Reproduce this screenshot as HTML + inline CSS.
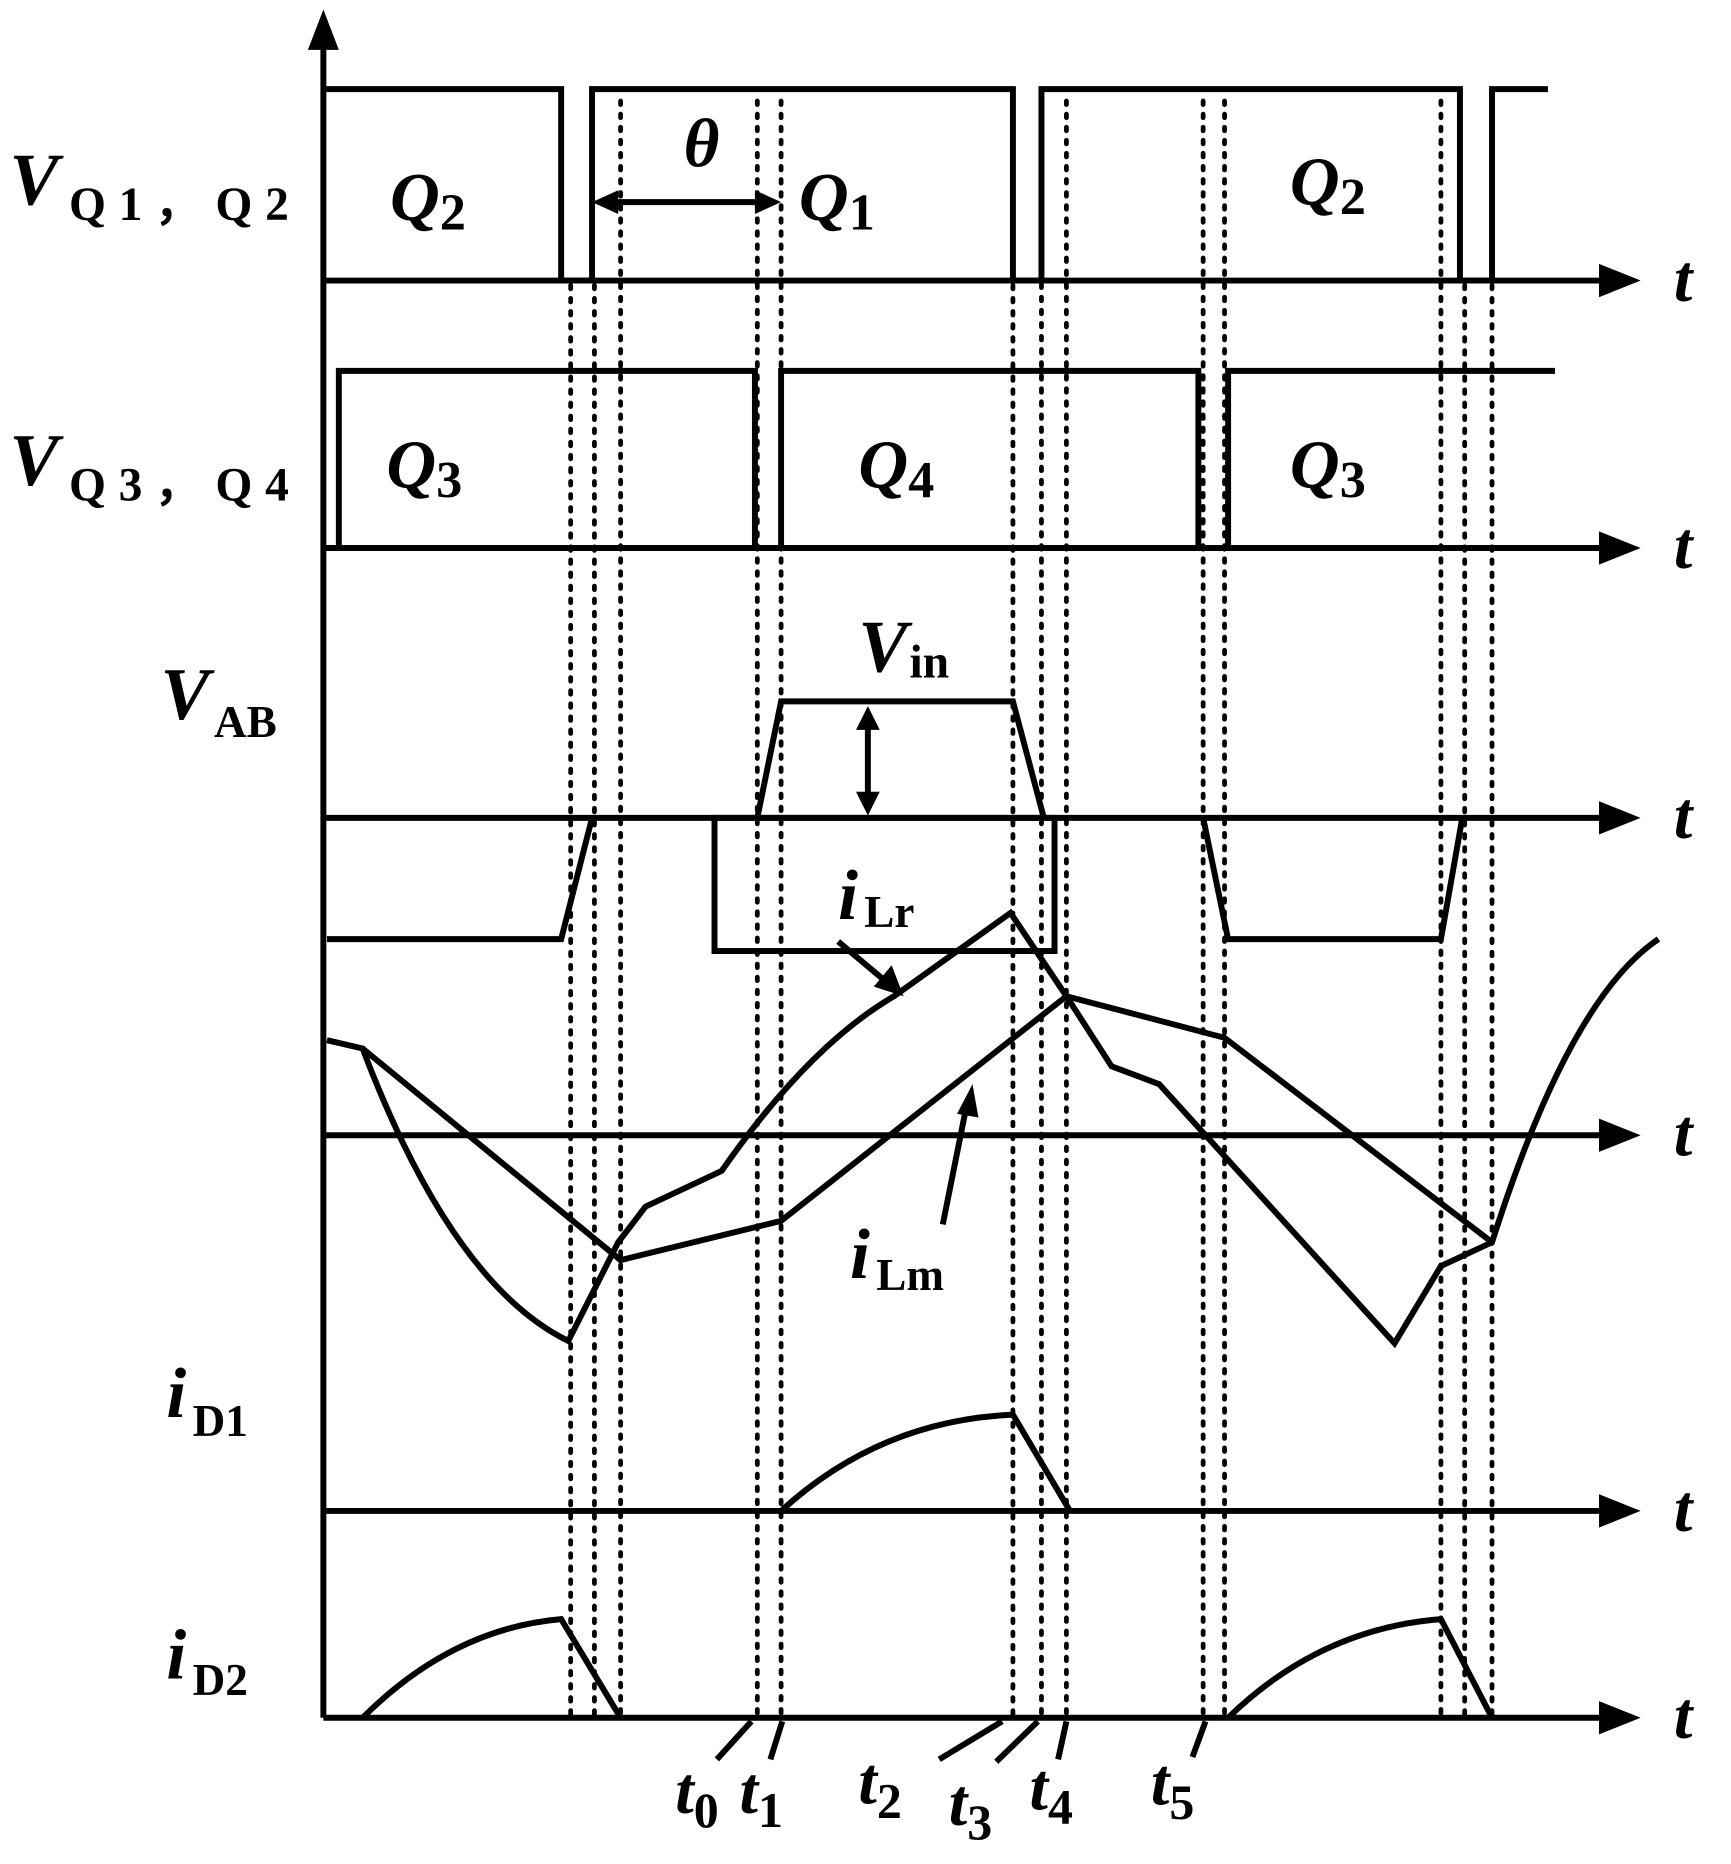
<!DOCTYPE html>
<html><head><meta charset="utf-8"><style>
html,body{margin:0;padding:0;background:#fff}
svg{display:block}
text{font-family:"Liberation Serif",serif;font-weight:bold;fill:#000}
</style></head><body>
<svg width="1731" height="1864" viewBox="0 0 1456 1568" preserveAspectRatio="none" xmlns="http://www.w3.org/2000/svg">
<g stroke="#000" stroke-width="5" fill="none" stroke-linejoin="miter">
<line x1="272" y1="1445" x2="272" y2="40"/>
<line x1="272" y1="236" x2="1350" y2="236"/>
<line x1="272" y1="461" x2="1350" y2="461"/>
<line x1="272" y1="688" x2="1350" y2="688"/>
<line x1="272" y1="955" x2="1350" y2="955"/>
<line x1="272" y1="1271" x2="1350" y2="1271"/>
<line x1="272" y1="1445" x2="1350" y2="1445"/>
<polyline points="272,75 472,75 472,236 478,236 498,236 498,75 852,75 852,236 876,236 876,75 1228,75 1228,236 1255,236 1255,75 1302,75"/>
<polyline points="285,461 285,312 635,312 635,461 657,461 657,312 1008,312 1008,461 1033,461 1033,312 1308,312"/>
<polyline points="275,790 472,790 498,688"/>
<polyline points="637,688 657,590 852,590 878,688"/>
<polyline points="1012,688 1033,790 1212,790 1230,688"/>
<rect x="601" y="688" width="286" height="112"/>
<line x1="730" y1="608" x2="730" y2="672"/>
<line x1="515" y1="170" x2="640" y2="170"/>
<path d="M275,875 L305,882 Q380,1080 478,1128 L520,1045 L543,1015 L607,985 Q680,880 752,838 L850,768 L897,838 L935,897 L975,912 L1173,1130 L1212,1065 L1255,1045 Q1320,840 1395,790"/>
<polyline points="305,882 522,1060 657,1027 897,838 1030,873 1255,1045"/>
<line x1="705" y1="792" x2="748" y2="828"/>
<line x1="793" y1="1030" x2="812" y2="935"/>
<path d="M657,1271 Q740,1195 852,1190 L900,1271"/>
<path d="M305,1445 Q380,1370 472,1362 L522,1445"/>
<path d="M1033,1445 Q1110,1370 1212,1362 L1255,1445"/>
<line x1="632" y1="1448" x2="603" y2="1480"/>
<line x1="658" y1="1448" x2="648" y2="1480"/>
<line x1="843" y1="1448" x2="790" y2="1480"/>
<line x1="873" y1="1448" x2="838" y2="1482"/>
<line x1="897" y1="1448" x2="890" y2="1480"/>
<line x1="1014" y1="1448" x2="1003" y2="1478"/>
</g>
<g stroke="#000" stroke-width="4" stroke-dasharray="3,8" stroke-linecap="round">
<line x1="480" y1="240" x2="480" y2="1445"/>
<line x1="500" y1="240" x2="500" y2="1445"/>
<line x1="522" y1="85" x2="522" y2="1445"/>
<line x1="637" y1="85" x2="637" y2="1445"/>
<line x1="657" y1="85" x2="657" y2="1445"/>
<line x1="852" y1="240" x2="852" y2="1445"/>
<line x1="876" y1="85" x2="876" y2="1445"/>
<line x1="897" y1="85" x2="897" y2="1445"/>
<line x1="1012" y1="85" x2="1012" y2="1445"/>
<line x1="1030" y1="85" x2="1030" y2="1445"/>
<line x1="1212" y1="85" x2="1212" y2="1445"/>
<line x1="1232" y1="240" x2="1232" y2="1445"/>
<line x1="1255" y1="240" x2="1255" y2="1445"/>
</g>
<g fill="#000">
<polygon points="272,8 259,42 285,42"/>
<polygon points="1380,236 1345,222 1345,250"/>
<polygon points="1380,461 1345,447 1345,475"/>
<polygon points="1380,688 1345,674 1345,702"/>
<polygon points="1380,955 1345,941 1345,969"/>
<polygon points="1380,1271 1345,1257 1345,1285"/>
<polygon points="1380,1445 1345,1431 1345,1459"/>
<polygon points="730,594 720,614 740,614"/>
<polygon points="730,686 720,666 740,666"/>
<polygon points="498,170 520,160 520,180"/>
<polygon points="657,170 635,160 635,180"/>
<polygon points="760,838 735,830 750,812"/>
<polygon points="818,912 805,937 823,940"/>
</g>
<g font-size="56" font-style="italic">
<text x="1408" y="253">t</text>
<text x="1408" y="478">t</text>
<text x="1408" y="705">t</text>
<text x="1408" y="972">t</text>
<text x="1408" y="1288">t</text>
<text x="1408" y="1462">t</text>
</g>
<text x="8" y="172" font-size="62" font-style="italic">V</text>
<text x="58" y="185" font-size="40" textLength="185" lengthAdjust="spacing">Q1，Q2</text>
<text x="8" y="408" font-size="62" font-style="italic">V</text>
<text x="58" y="421" font-size="40" textLength="185" lengthAdjust="spacing">Q3，Q4</text>
<text x="135" y="605" font-size="62" font-style="italic">V</text>
<text x="180" y="620" font-size="38">AB</text>
<text x="140" y="1192" font-size="60" font-style="italic">i</text>
<text x="162" y="1208" font-size="38">D1</text>
<text x="140" y="1412" font-size="60" font-style="italic">i</text>
<text x="162" y="1426" font-size="38">D2</text>
<g font-size="58" font-style="italic">
<text x="328" y="185">Q<tspan font-size="44" font-style="normal" dy="8">2</tspan></text>
<text x="672" y="185">Q<tspan font-size="44" font-style="normal" dy="8">1</tspan></text>
<text x="1085" y="172">Q<tspan font-size="44" font-style="normal" dy="8">2</tspan></text>
<text x="325" y="410">Q<tspan font-size="44" font-style="normal" dy="8">3</tspan></text>
<text x="722" y="410">Q<tspan font-size="44" font-style="normal" dy="8">4</tspan></text>
<text x="1085" y="410">Q<tspan font-size="44" font-style="normal" dy="8">3</tspan></text>
<text x="575" y="140">θ</text>
</g>
<text x="722" y="565" font-size="62" font-style="italic">V</text>
<text x="765" y="570" font-size="40">in</text>
<text x="705" y="773" font-size="60" font-style="italic">i</text>
<text x="727" y="780" font-size="38">Lr</text>
<text x="715" y="1075" font-size="60" font-style="italic">i</text>
<text x="737" y="1085" font-size="38">Lm</text>
<g font-size="56" font-style="italic">
<text x="568" y="1525">t<tspan font-style="normal" font-size="42" dy="12">0</tspan></text>
<text x="622" y="1525">t<tspan font-style="normal" font-size="42" dy="12">1</tspan></text>
<text x="722" y="1517">t<tspan font-style="normal" font-size="42" dy="12">2</tspan></text>
<text x="798" y="1535">t<tspan font-style="normal" font-size="42" dy="12">3</tspan></text>
<text x="866" y="1522">t<tspan font-style="normal" font-size="42" dy="12">4</tspan></text>
<text x="968" y="1518">t<tspan font-style="normal" font-size="42" dy="12">5</tspan></text>
</g>
</svg>
</body></html>
